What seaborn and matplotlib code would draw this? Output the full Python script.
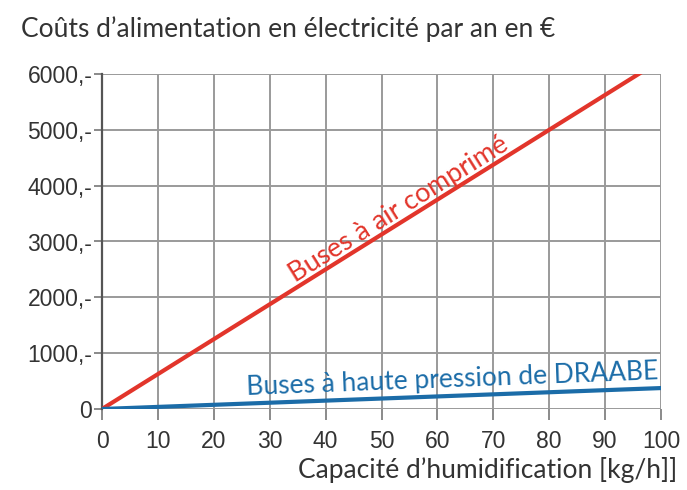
import matplotlib
matplotlib.use("Agg")
import matplotlib.pyplot as plt
import seaborn as sns
import pandas as pd
import numpy as np

capacity = [0, 100]
cost_air = [0, 6250]
cost_draabe = [0, 375]
x_ticks = [0, 10, 20, 30, 40, 50, 60, 70, 80, 90, 100]
y_ticks = [0, 1000, 2000, 3000, 4000, 5000, 6000]
y_tick_labels = ["0", "1000,-", "2000,-", "3000,-", "4000,-", "5000,-", "6000,-"]

title = "Coûts d\u2019alimentation en électricité par an en €"
xlabel = "Capacité d\u2019humidification [kg/h]]"
label_air = "Buses à air comprimé"
label_draabe = "Buses à haute pression de DRAABE"

sns.set_theme(style="white")
plt.rcParams['font.family'] = ['Liberation Sans', 'DejaVu Sans']

df = pd.DataFrame({
    "capacity": capacity * 2,
    "cost": cost_air + cost_draabe,
    "series": [label_air] * 2 + [label_draabe] * 2,
})

fig = plt.figure(figsize=(6.87, 4.90), dpi=100)
ax = fig.add_axes([102/687, 1 - 409/490, (661-102)/687, (409-74)/490])

red = "#e2352b"
blue = "#1b6ca8"
sns.lineplot(data=df, x="capacity", y="cost", hue="series",
             palette={label_air: red, label_draabe: blue},
             linewidth=3.0, ax=ax, legend=False, zorder=3)

ax.set_xlim(0, 100)
ax.set_ylim(0, 6000)
ax.set_xticks(x_ticks)
ax.set_yticks(y_ticks)
ax.set_yticklabels(y_tick_labels)
ax.grid(True, color="#9a9a9a", linewidth=1.4)
ax.set_axisbelow(True)
for s in ["top", "right", "bottom"]:
    ax.spines[s].set_visible(False)
ax.spines["left"].set_color("#555555")
ax.spines["left"].set_linewidth(1.6)
ax.spines["left"].set_zorder(2)

ax.tick_params(axis="y", length=6, width=1.2, color="#777777", pad=1,
               labelsize=16.5, labelcolor="#333333", left=True, direction="out")
ax.tick_params(axis="x", length=8, width=1.2, color="#777777", pad=7,
               labelsize=16.5, labelcolor="#333333", bottom=True, direction="out")
ax.set_xlabel("")
ax.set_ylabel("")

label_font = ['Lato', 'DejaVu Sans']
fig.text(21/687, 1 - 29/490, title, fontsize=19, family=label_font,
         color="#333333", ha="left", va="center")
fig.text(677/687, 1 - 470/490, xlabel, fontsize=19, family=label_font,
         color="#333333", ha="right", va="center")

ax.text(34.5, 2260, label_air, fontsize=19.5, family=label_font, color=red,
        rotation=32.0, rotation_mode="anchor", ha="left", va="baseline", zorder=4)
ax.text(25.9, 250, label_draabe, fontsize=19, family=label_font, color=blue,
        rotation=2.2, rotation_mode="anchor", ha="left", va="baseline", zorder=4)

fig.savefig("out.png", dpi=100)
